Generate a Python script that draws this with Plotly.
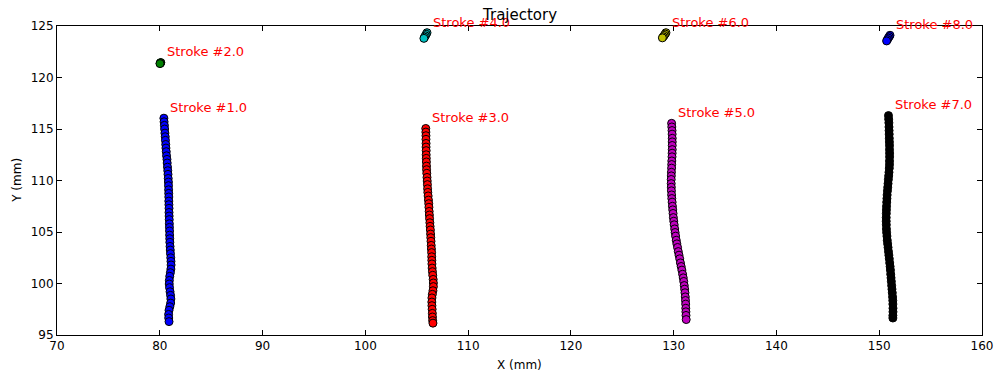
import plotly.graph_objects as go

# Pen trajectory strokes (mm), points listed in drawing order
x1 = [80.40, 80.42, 80.45, 80.47, 80.50, 80.53, 80.55, 80.58, 80.60, 80.63, 80.66, 80.70, 80.72, 80.75,
      80.78, 80.80, 80.82, 80.84, 80.85, 80.86, 80.87, 80.88, 80.88, 80.89, 80.90, 80.90, 80.91, 80.92,
      80.93, 80.94, 80.95, 80.96, 80.97, 80.98, 81.00, 81.02, 81.04, 81.07, 81.09, 81.10, 81.08, 81.03,
      80.97, 80.93, 80.92, 80.95, 81.00, 81.05, 81.08, 81.06, 80.98, 80.90, 80.86, 80.87, 80.90]
y1 = [116.05, 115.7, 115.35, 115.0, 114.6, 114.25, 113.9, 113.5, 113.15, 112.8, 112.4, 112.05, 111.7,
      111.3, 110.95, 110.6, 110.2, 109.85, 109.5, 109.1, 108.75, 108.4, 108.0, 107.65, 107.3, 106.9,
      106.55, 106.2, 105.8, 105.45, 105.1, 104.7, 104.35, 104.0, 103.6, 103.25, 102.9, 102.5, 102.15,
      101.8, 101.4, 101.05, 100.7, 100.3, 99.95, 99.6, 99.2, 98.85, 98.5, 98.1, 97.75, 97.4, 97.0,
      96.65, 96.3]

x2 = [80.10, 80.07, 80.04, 80.02]
y2 = [121.45, 121.42, 121.38, 121.35]

x3 = [105.88, 105.89, 105.90, 105.90, 105.91, 105.91, 105.92, 105.92, 105.93, 105.94, 105.95, 105.96,
      105.98, 106.00, 106.02, 106.04, 106.06, 106.08, 106.11, 106.14, 106.17, 106.19, 106.21, 106.23,
      106.25, 106.28, 106.30, 106.33, 106.35, 106.37, 106.39, 106.41, 106.43, 106.45, 106.46, 106.47,
      106.48, 106.50, 106.53, 106.56, 106.60, 106.62, 106.62, 106.58, 106.52, 106.48, 106.47, 106.48,
      106.50, 106.52, 106.53, 106.55, 106.58]
y3 = [115.05, 114.7, 114.35, 114.0, 113.6, 113.25, 112.9, 112.5, 112.15, 111.8, 111.4, 111.05, 110.7,
      110.3, 109.95, 109.6, 109.2, 108.85, 108.5, 108.1, 107.75, 107.4, 107.0, 106.65, 106.3, 105.9,
      105.55, 105.2, 104.8, 104.45, 104.1, 103.7, 103.35, 103.0, 102.6, 102.25, 101.9, 101.5, 101.15,
      100.8, 100.4, 100.05, 99.7, 99.3, 98.95, 98.6, 98.2, 97.85, 97.5, 97.1, 96.75, 96.4, 96.15]

x4 = [106.00, 105.92, 105.84, 105.76, 105.70]
y4 = [124.35, 124.20, 124.05, 123.92, 123.80]

x5 = [129.80, 129.82, 129.84, 129.85, 129.86, 129.86, 129.86, 129.86, 129.85, 129.84, 129.82, 129.81,
      129.80, 129.78, 129.77, 129.76, 129.76, 129.77, 129.78, 129.80, 129.82, 129.85, 129.88, 129.91,
      129.94, 129.97, 130.01, 130.05, 130.10, 130.14, 130.19, 130.25, 130.31, 130.38, 130.45, 130.52,
      130.59, 130.66, 130.73, 130.80, 130.87, 130.93, 130.98, 131.03, 131.07, 131.10, 131.13, 131.15,
      131.17, 131.18, 131.19, 131.20, 131.22]
y5 = [115.55, 115.2, 114.85, 114.5, 114.1, 113.75, 113.4, 113.0, 112.65, 112.3, 111.9, 111.55, 111.2,
      110.8, 110.45, 110.1, 109.7, 109.35, 109.0, 108.6, 108.25, 107.9, 107.5, 107.15, 106.8, 106.4,
      106.05, 105.7, 105.3, 104.95, 104.6, 104.2, 103.85, 103.5, 103.1, 102.75, 102.4, 102.0, 101.65,
      101.3, 100.9, 100.55, 100.2, 99.8, 99.45, 99.1, 98.7, 98.35, 98.0, 97.6, 97.25, 96.9, 96.5]

x6 = [129.25, 129.17, 129.08, 128.98, 128.90]
y6 = [124.35, 124.22, 124.08, 123.95, 123.85]

x7 = [150.90, 150.92, 150.94, 150.95, 150.96, 150.97, 150.98, 150.99, 151.00, 151.00, 151.01, 151.01,
      151.00, 151.00, 150.98, 150.95, 150.92, 150.89, 150.86, 150.83, 150.80, 150.77, 150.75, 150.73,
      150.71, 150.70, 150.69, 150.68, 150.68, 150.69, 150.70, 150.72, 150.75, 150.78, 150.82, 150.86,
      150.90, 150.94, 150.98, 151.02, 151.06, 151.09, 151.12, 151.15, 151.18, 151.21, 151.24, 151.27,
      151.30, 151.32, 151.33, 151.34, 151.34, 151.33, 151.33]
y7 = [116.3, 115.95, 115.6, 115.2, 114.85, 114.5, 114.1, 113.75, 113.4, 113.0, 112.65, 112.3, 111.9,
      111.55, 111.2, 110.8, 110.45, 110.1, 109.7, 109.35, 109.0, 108.6, 108.25, 107.9, 107.5, 107.15,
      106.8, 106.4, 106.05, 105.7, 105.3, 104.95, 104.6, 104.2, 103.85, 103.5, 103.1, 102.75, 102.4,
      102.0, 101.65, 101.3, 100.9, 100.55, 100.2, 99.8, 99.45, 99.1, 98.7, 98.35, 98.0, 97.6, 97.25,
      96.9, 96.65]

x8 = [151.05, 150.97, 150.88, 150.80, 150.72]
y8 = [124.10, 123.97, 123.83, 123.68, 123.55]

stroke_ids = [1.0, 2.0, 3.0, 4.0, 5.0, 6.0, 7.0, 8.0]
stroke_x = [x1, x2, x3, x4, x5, x6, x7, x8]
stroke_y = [y1, y2, y3, y4, y5, y6, y7, y8]
colors = ["#0000ff", "#008000", "#ff0000", "#00bfbf", "#bf00bf", "#bfbf00", "#000000", "#0000ff"]

x_ticks = [70, 80, 90, 100, 110, 120, 130, 140, 150, 160]
y_ticks = [95, 100, 105, 110, 115, 120, 125]

FONT = "DejaVu Sans"
LABEL_DX, LABEL_DY = 0.4, 0.6

fig = go.Figure()
annotations = []
for sid, xs, ys, col in zip(stroke_ids, stroke_x, stroke_y, colors):
    fig.add_trace(go.Scatter(
        x=xs, y=ys, mode="markers",
        marker=dict(symbol="circle", size=8, color=col, line=dict(color="#000000", width=1)),
        showlegend=False, cliponaxis=False,
    ))
    annotations.append(dict(
        x=xs[0] + LABEL_DX, y=ys[0] + LABEL_DY, xref="x", yref="y",
        text=f"Stroke #{sid:.1f}", showarrow=False, xanchor="left", yanchor="bottom",
        yshift=-5, font=dict(family=FONT, size=13, color="#ff0000"),
    ))

annotations += [
    dict(x=0.5, y=1.036, xref="paper", yref="paper", text="Trajectory", showarrow=False,
         xanchor="center", yanchor="middle", font=dict(family=FONT, size=15, color="#000000")),
    dict(x=0.5, y=-0.097, xref="paper", yref="paper", text="X (mm)", showarrow=False,
         xanchor="center", yanchor="middle", font=dict(family=FONT, size=12, color="#000000")),
    dict(x=-0.044, y=0.5, xref="paper", yref="paper", text="Y (mm)", showarrow=False, textangle=-90,
         xanchor="center", yanchor="middle", font=dict(family=FONT, size=12, color="#000000")),
]

axis_common = dict(
    showgrid=False, zeroline=False, showline=True, linecolor="#000000", linewidth=1,
    mirror="allticks", ticks="inside", ticklen=5, tickwidth=1, tickcolor="#000000",
    tickfont=dict(family=FONT, size=12, color="#000000"), automargin=False,
)

fig.update_layout(
    width=995, height=376,
    margin=dict(l=57, r=13, t=26, b=41),
    paper_bgcolor="#ffffff", plot_bgcolor="#ffffff",
    xaxis=dict(range=[70, 160], tickvals=x_ticks, **axis_common),
    yaxis=dict(range=[95, 125], tickvals=y_ticks, **axis_common),
    annotations=annotations,
)

fig.write_html("out.html")
